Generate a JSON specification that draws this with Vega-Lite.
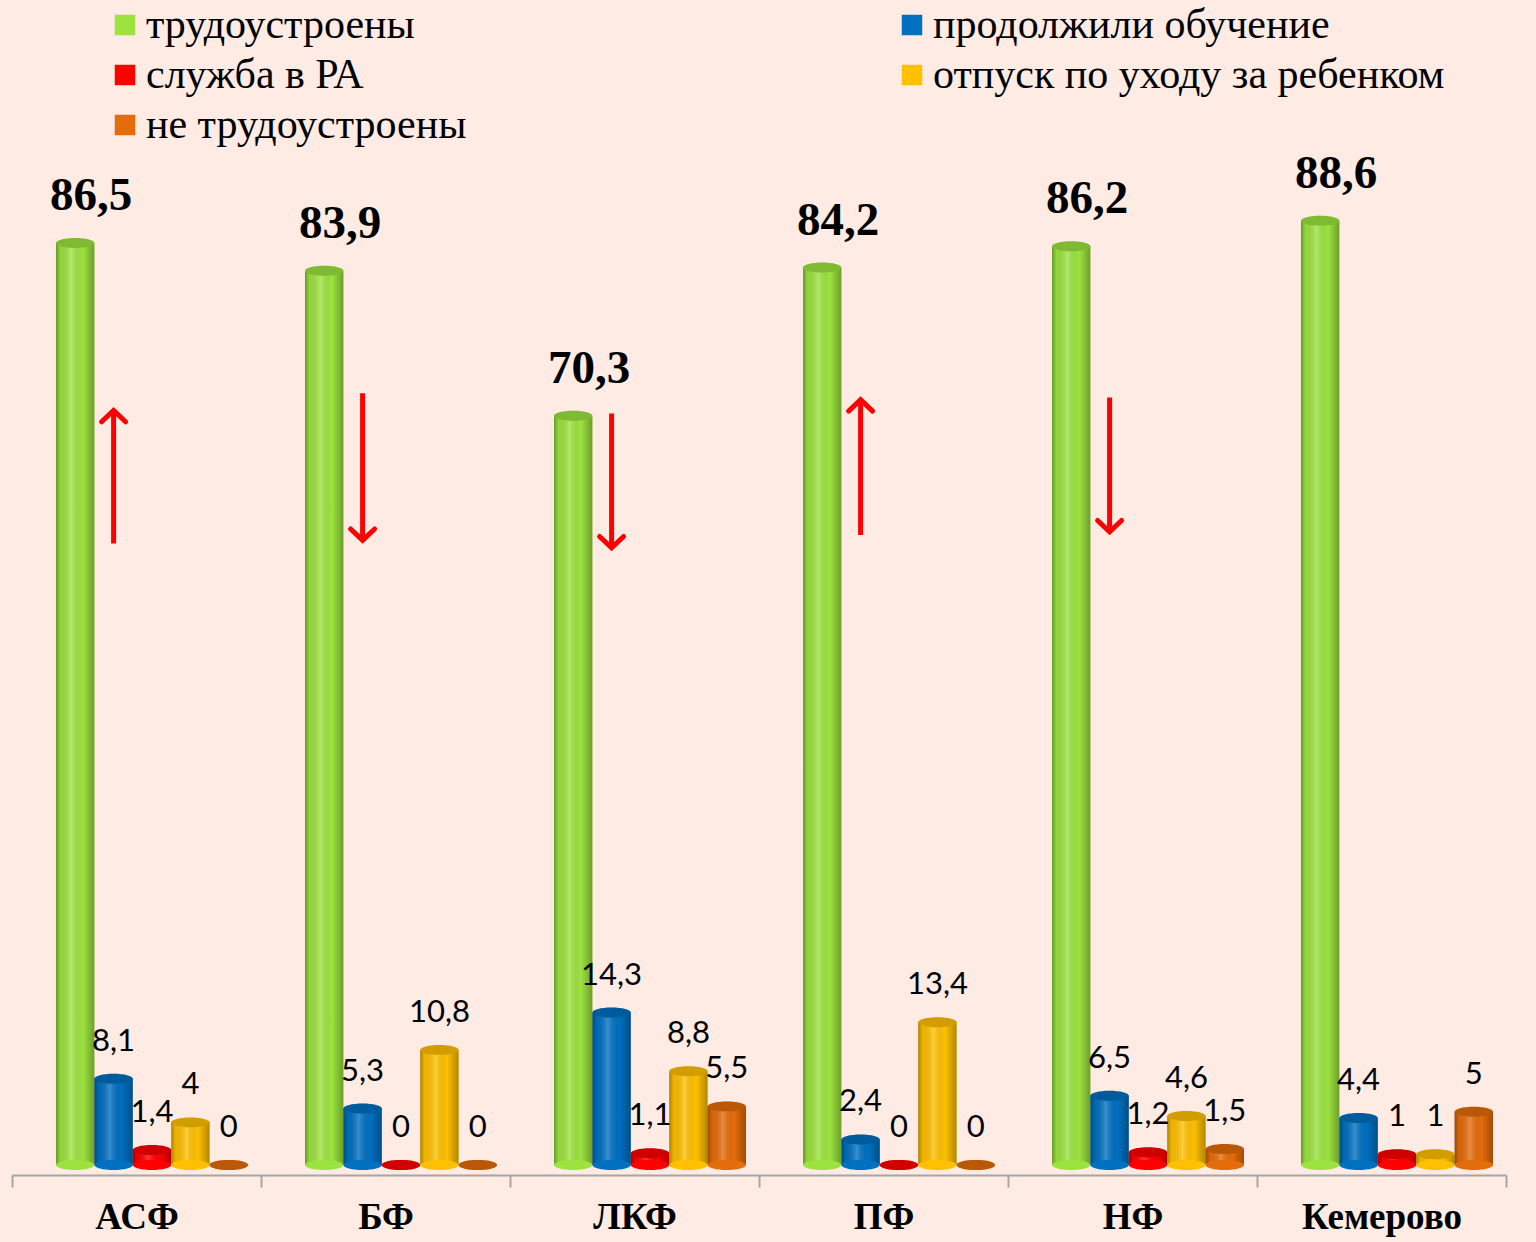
{
  "$schema": "https://vega.github.io/schema/vega-lite/v6.json",
  "autosize": {"type": "none"},
  "width": 1494,
  "height": 1165,
  "padding": {"left": 12, "top": 0, "right": 30, "bottom": 77},
  "background": "#fdebe4",
  "config": {
    "view": {"stroke": null},
    "locale": {"number": {"decimal": ",", "thousands": " ", "grouping": [3], "currency": ["", ""]}}
  },
  "datasets": {
    "main": [
      {"group": "АСФ", "series": "трудоустроены", "value": 86.5},
      {"group": "АСФ", "series": "продолжили обучение", "value": 8.1},
      {"group": "АСФ", "series": "служба в РА", "value": 1.4},
      {"group": "АСФ", "series": "отпуск по уходу за ребенком", "value": 4},
      {"group": "АСФ", "series": "не трудоустроены", "value": 0},
      {"group": "БФ", "series": "трудоустроены", "value": 83.9},
      {"group": "БФ", "series": "продолжили обучение", "value": 5.3},
      {"group": "БФ", "series": "служба в РА", "value": 0},
      {"group": "БФ", "series": "отпуск по уходу за ребенком", "value": 10.8},
      {"group": "БФ", "series": "не трудоустроены", "value": 0},
      {"group": "ЛКФ", "series": "трудоустроены", "value": 70.3},
      {"group": "ЛКФ", "series": "продолжили обучение", "value": 14.3},
      {"group": "ЛКФ", "series": "служба в РА", "value": 1.1},
      {"group": "ЛКФ", "series": "отпуск по уходу за ребенком", "value": 8.8},
      {"group": "ЛКФ", "series": "не трудоустроены", "value": 5.5},
      {"group": "ПФ", "series": "трудоустроены", "value": 84.2},
      {"group": "ПФ", "series": "продолжили обучение", "value": 2.4},
      {"group": "ПФ", "series": "служба в РА", "value": 0},
      {"group": "ПФ", "series": "отпуск по уходу за ребенком", "value": 13.4},
      {"group": "ПФ", "series": "не трудоустроены", "value": 0},
      {"group": "НФ", "series": "трудоустроены", "value": 86.2},
      {"group": "НФ", "series": "продолжили обучение", "value": 6.5},
      {"group": "НФ", "series": "служба в РА", "value": 1.2},
      {"group": "НФ", "series": "отпуск по уходу за ребенком", "value": 4.6},
      {"group": "НФ", "series": "не трудоустроены", "value": 1.5},
      {"group": "Кемерово", "series": "трудоустроены", "value": 88.6},
      {"group": "Кемерово", "series": "продолжили обучение", "value": 4.4},
      {"group": "Кемерово", "series": "служба в РА", "value": 1},
      {"group": "Кемерово", "series": "отпуск по уходу за ребенком", "value": 1},
      {"group": "Кемерово", "series": "не трудоустроены", "value": 5}
    ],
    "arrows": [
      {"group": "АСФ", "series": "продолжили обучение", "from": 58.3, "to": 70.8, "dir": "up"},
      {"group": "БФ", "series": "продолжили обучение", "from": 72.4, "to": 58.6, "dir": "down"},
      {"group": "ЛКФ", "series": "продолжили обучение", "from": 70.5, "to": 57.9, "dir": "down"},
      {"group": "ПФ", "series": "продолжили обучение", "from": 59.1, "to": 71.8, "dir": "up"},
      {"group": "НФ", "series": "продолжили обучение", "from": 72.0, "to": 59.4, "dir": "down"}
    ]
  },
  "encoding": {
    "x": {
      "field": "group", "type": "nominal",
      "scale": {"domain": ["АСФ", "БФ", "ЛКФ", "ПФ", "НФ", "Кемерово"], "paddingInner": 0, "paddingOuter": 0},
      "axis": {
        "title": null, "labelAngle": 0, "labelFont": "Liberation Serif", "labelFontWeight": "bold",
        "labelFontSize": 37, "labelColor": "#000000", "labelPadding": 12, "offset": 10,
        "domainColor": "#a6a6a6", "domainWidth": 2, "tickColor": "#a6a6a6", "tickWidth": 2,
        "tickSize": 12, "tickBand": "extent"
      }
    },
    "xOffset": {
      "field": "series", "type": "nominal",
      "scale": {"domain": ["трудоустроены", "продолжили обучение", "служба в РА", "отпуск по уходу за ребенком", "не трудоустроены"], "paddingInner": 0, "paddingOuter": 0.742, "align": 0.772}
    }
  },
  "layer": [
    {
      "data": {"name": "main"},
      "mark": {"type": "bar"},
      "encoding": {
        "y": {"field": "value", "type": "quantitative", "scale": {"domain": [0, 109.3], "nice": false, "zero": true}, "axis": null},
        "color": {
          "field": "series", "type": "nominal",
          "scale": {
            "domain": ["трудоустроены", "продолжили обучение", "служба в РА", "отпуск по уходу за ребенком", "не трудоустроены"],
            "range": ["#9de33f", "#0070c0", "#ff0000", "#ffc000", "#e46c0a"]
          },
          "legend": {
            "title": null, "orient": "none", "legendX": 92, "legendY": 4, "columns": 2,
            "values": ["трудоустроены", "служба в РА", "не трудоустроены", "продолжили обучение", "отпуск по уходу за ребенком"],
            "symbolType": "square", "symbolSize": 420, "symbolStrokeWidth": 0, "symbolOpacity": 1,
            "labelFont": "Liberation Serif", "labelFontSize": 42, "labelColor": "#000000",
            "labelLimit": 800, "labelOffset": 0, "rowPadding": 8, "columnPadding": 424, "padding": 0
          }
        }
      }
    },
    {
      "data": {"name": "main"},
      "mark": {
        "type": "bar",
        "fill": {
          "gradient": "linear", "x1": 0, "x2": 1, "y1": 0, "y2": 0,
          "stops": [
            {"offset": 0, "color": "rgba(0,0,0,0.32)"},
            {"offset": 0.12, "color": "rgba(0,0,0,0.06)"},
            {"offset": 0.4, "color": "rgba(255,255,255,0.22)"},
            {"offset": 0.7, "color": "rgba(0,0,0,0)"},
            {"offset": 1, "color": "rgba(0,0,0,0.3)"}
          ]
        }
      },
      "encoding": {
        "y": {"field": "value", "type": "quantitative"}
      }
    },
    {
      "data": {"name": "main"},
      "mark": {"type": "point", "filled": true, "opacity": 1, "shape": "M-1,0 A1,0.26 0 1,0 1,0 A1,0.26 0 1,0 -1,0 Z", "size": 1470},
      "encoding": {
        "y": {"datum": 0, "type": "quantitative"},
        "color": {"field": "series", "type": "nominal"}
      }
    },
    {
      "data": {"name": "main"},
      "mark": {"type": "point", "filled": true, "opacity": 1, "shape": "M-1,0 A1,0.26 0 1,0 1,0 A1,0.26 0 1,0 -1,0 Z", "size": 1470},
      "encoding": {
        "y": {"field": "value", "type": "quantitative"},
        "color": {"field": "series", "type": "nominal"}
      }
    },
    {
      "data": {"name": "main"},
      "mark": {"type": "point", "filled": true, "fill": "#000000", "opacity": 0.18, "shape": "M-1,0 A1,0.26 0 1,0 1,0 A1,0.26 0 1,0 -1,0 Z", "size": 1470},
      "encoding": {
        "y": {"field": "value", "type": "quantitative"}
      }
    },
    {
      "data": {"name": "main"},
      "transform": [{"filter": "datum.series === 'трудоустроены'"}],
      "mark": {"type": "text", "font": "Liberation Serif", "fontWeight": "bold", "fontSize": 47, "color": "#000000", "baseline": "middle", "dy": -47, "dx": 16},
      "encoding": {
        "y": {"field": "value", "type": "quantitative"},
        "text": {"field": "value", "type": "quantitative", "format": ".3~r"}
      }
    },
    {
      "data": {"name": "main"},
      "transform": [{"filter": "datum.series !== 'трудоустроены'"}],
      "mark": {"type": "text", "font": "Lato", "fontSize": 31, "color": "#000000", "baseline": "middle", "dy": -37},
      "encoding": {
        "y": {"field": "value", "type": "quantitative"},
        "text": {"field": "value", "type": "quantitative", "format": ".3~r"}
      }
    },
    {
      "data": {"name": "arrows"},
      "mark": {"type": "rule", "color": "#ff0000", "strokeWidth": 5},
      "encoding": {
        "y": {"field": "from", "type": "quantitative"},
        "y2": {"field": "to"}
      }
    },
    {
      "data": {"name": "arrows"},
      "mark": {"type": "point", "filled": false, "stroke": "#ff0000", "strokeWidth": 5, "strokeCap": "round", "strokeJoin": "miter", "opacity": 1, "size": 576},
      "encoding": {
        "y": {"field": "to", "type": "quantitative"},
        "shape": {
          "field": "dir", "type": "nominal",
          "scale": {"domain": ["up", "down"], "range": ["M-1,0.95 L0,0 L1,0.95", "M-1,-0.95 L0,0 L1,-0.95"]},
          "legend": null
        }
      }
    }
  ]
}
